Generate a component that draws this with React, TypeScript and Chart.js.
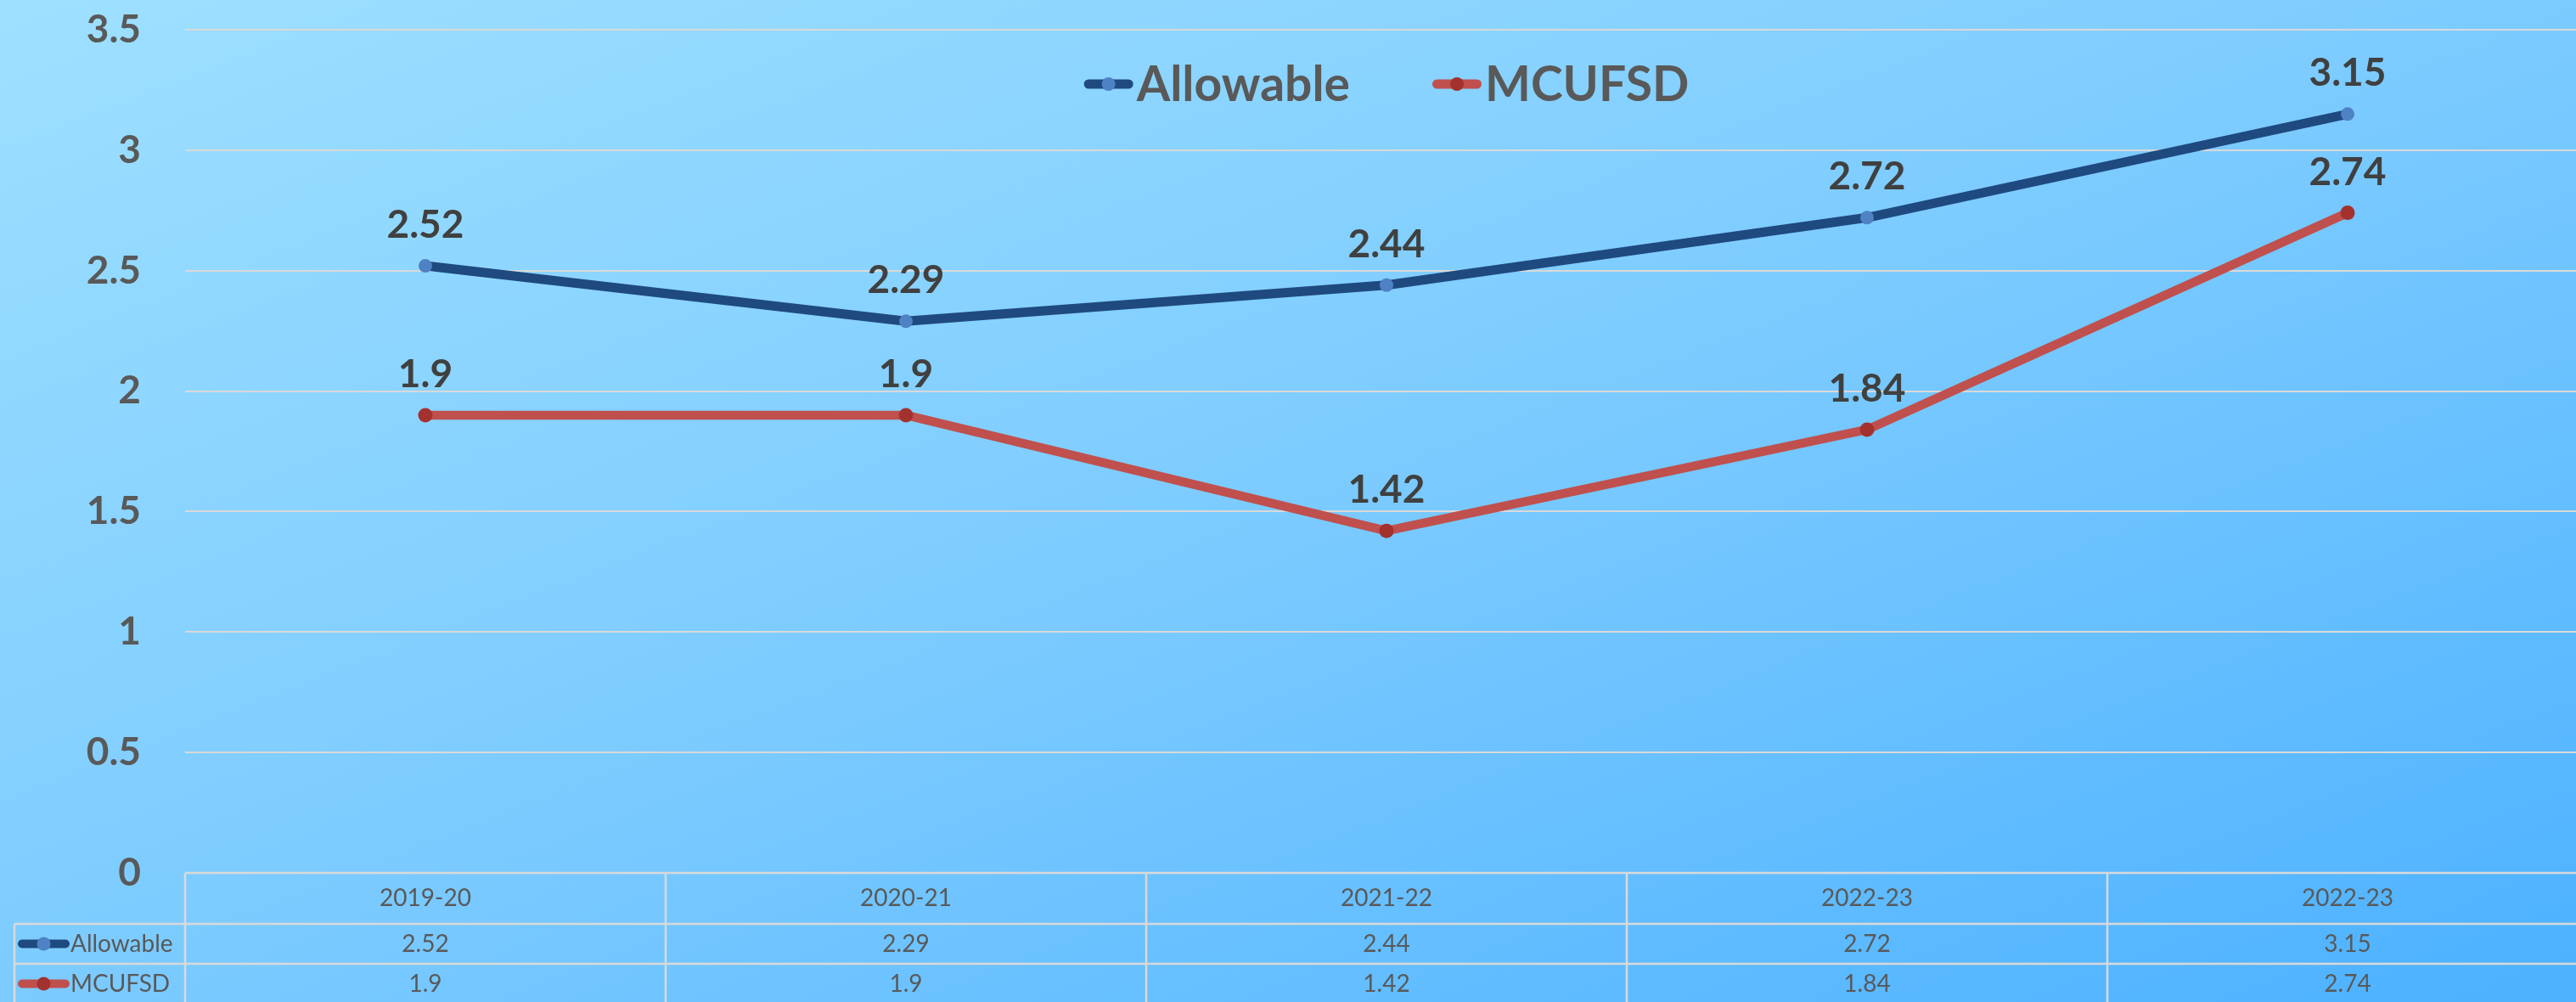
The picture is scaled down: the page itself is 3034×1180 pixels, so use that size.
import React, { useEffect, useRef } from "react";
import { Chart, registerables } from "chart.js";

Chart.register(...registerables);

const categories = ["2019-20", "2020-21", "2021-22", "2022-23", "2022-23"];
const allowableValues = [2.52, 2.29, 2.44, 2.72, 3.15];
const mcufsdValues = [1.9, 1.9, 1.42, 1.84, 2.74];
const seriesNames = ["Allowable", "MCUFSD"];
const yMin = 0;
const yMax = 3.5;
const yStep = 0.5;

const BLUE_LINE = "#1f4a7f";
const BLUE_MARK = "#4f82c4";
const RED_LINE = "#c0504d";
const RED_MARK = "#a3322f";
const GRID = "#d9d9d9";
const TEXT = "#595959";
const LABEL = "#404040";
const FONT = "Lato, 'Open Sans', sans-serif";

function drawKey(ctx: CanvasRenderingContext2D, x1: number, x2: number, y: number, lineColor: string, markColor: string, r: number, lw: number) {
  ctx.save();
  ctx.strokeStyle = lineColor;
  ctx.lineWidth = lw;
  ctx.lineCap = "round";
  ctx.beginPath();
  ctx.moveTo(x1 + lw / 2, y);
  ctx.lineTo(x2 - lw / 2, y);
  ctx.stroke();
  ctx.fillStyle = markColor;
  ctx.beginPath();
  ctx.arc((x1 + x2) / 2, y, r, 0, Math.PI * 2);
  ctx.fill();
  ctx.restore();
}

const overlayPlugin = {
  id: "overlay",
  afterDatasetsDraw(chart: any) {
    const ctx: CanvasRenderingContext2D = chart.ctx;
    ctx.save();
    ctx.font = `bold 46px ${FONT}`;
    ctx.fillStyle = LABEL;
    ctx.textAlign = "center";
    ctx.textBaseline = "alphabetic";
    chart.data.datasets.forEach((ds: any, di: number) => {
      const meta = chart.getDatasetMeta(di);
      meta.data.forEach((pt: any, i: number) => {
        ctx.fillText(String(ds.data[i]), pt.x, pt.y - 33);
      });
    });
    ctx.restore();
  },
  afterDraw(chart: any) {
    const ctx: CanvasRenderingContext2D = chart.ctx;
    const area = chart.chartArea;
    const xs = chart.scales.x;
    const colors = [
      [BLUE_LINE, BLUE_MARK],
      [RED_LINE, RED_MARK],
    ];

    // legend (top, centered over plot area)
    ctx.save();
    ctx.font = `bold 57px ${FONT}`;
    const keyW = 58;
    const keyGap = 4;
    const itemGap = 97;
    const widths = seriesNames.map((n) => ctx.measureText(n).width);
    const total = widths.reduce((a, w) => a + keyW + keyGap + w, 0) + itemGap * (seriesNames.length - 1);
    let lx = (area.left + area.right) / 2 - total / 2;
    const ly = 99;
    seriesNames.forEach((n, i) => {
      drawKey(ctx, lx, lx + keyW, ly, colors[i][0], colors[i][1], 8, 11);
      ctx.fillStyle = TEXT;
      ctx.textAlign = "left";
      ctx.textBaseline = "alphabetic";
      ctx.fillText(n, lx + keyW + keyGap, 119);
      lx += keyW + keyGap + widths[i] + itemGap;
    });
    ctx.restore();

    // data table
    const top = area.bottom;
    const headH = 60;
    const rowH = 47;
    const step = xs.getPixelForValue(1) - xs.getPixelForValue(0);
    const tableLeft = 17;
    const right = area.right;
    const bottom = chart.height + 5;
    ctx.save();
    ctx.strokeStyle = GRID;
    ctx.lineWidth = 2.5;
    ctx.beginPath();
    ctx.moveTo(area.left, top);
    ctx.lineTo(right, top);
    for (let r = 0; r < seriesNames.length; r++) {
      const y = top + headH + rowH * r;
      ctx.moveTo(tableLeft, y);
      ctx.lineTo(right, y);
    }
    ctx.moveTo(tableLeft, top + headH);
    ctx.lineTo(tableLeft, bottom);
    for (let i = 0; i <= categories.length; i++) {
      const x = xs.getPixelForValue(0) - step / 2 + step * i;
      ctx.moveTo(x, top);
      ctx.lineTo(x, bottom);
    }
    ctx.stroke();

    ctx.font = `28px ${FONT}`;
    ctx.fillStyle = TEXT;
    ctx.textAlign = "center";
    ctx.textBaseline = "middle";
    categories.forEach((c, i) => {
      ctx.fillText(c, xs.getPixelForValue(i), top + headH / 2);
    });
    const seriesData = [allowableValues, mcufsdValues];
    seriesData.forEach((vals, r) => {
      const cy = top + headH + rowH * r + rowH / 2;
      vals.forEach((v, i) => {
        ctx.fillText(String(v), xs.getPixelForValue(i), cy);
      });
    });
    seriesNames.forEach((n, r) => {
      const cy = top + headH + rowH * r + rowH / 2;
      drawKey(ctx, 21, 82, cy, colors[r][0], colors[r][1], 8, 10);
      ctx.fillStyle = TEXT;
      ctx.textAlign = "left";
      ctx.fillText(n, 83, cy);
    });
    ctx.restore();
  },
};

export default function App() {
  const ref = useRef<HTMLCanvasElement | null>(null);
  useEffect(() => {
    if (!ref.current) return;
    const chart = new Chart(ref.current, {
      type: "line",
      data: {
        labels: categories,
        datasets: [
          {
            label: seriesNames[0],
            data: allowableValues,
            borderColor: BLUE_LINE,
            backgroundColor: BLUE_MARK,
            borderWidth: 11,
            pointRadius: 8,
            pointBorderWidth: 0,
            pointBackgroundColor: BLUE_MARK,
            borderCapStyle: "round",
            borderJoinStyle: "round",
            tension: 0,
          },
          {
            label: seriesNames[1],
            data: mcufsdValues,
            borderColor: RED_LINE,
            backgroundColor: RED_MARK,
            borderWidth: 10.5,
            pointRadius: 8.5,
            pointBorderWidth: 0,
            pointBackgroundColor: RED_MARK,
            borderCapStyle: "round",
            borderJoinStyle: "round",
            tension: 0,
          },
        ],
      },
      options: {
        animation: false,
        responsive: false,
        devicePixelRatio: 1,
        layout: { padding: { left: 0, right: 12, top: 35, bottom: 152 } },
        plugins: {
          legend: { display: false },
          tooltip: { enabled: false },
        },
        scales: {
          x: {
            type: "category",
            offset: true,
            display: false,
          },
          y: {
            min: yMin,
            max: yMax,
            afterFit: (scale: any) => {
              scale.width = 218;
              scale.paddingTop = 20;
              scale.paddingBottom = 20;
            },
            ticks: {
              stepSize: yStep,
              padding: 52,
              color: TEXT,
              font: { family: FONT, size: 46, weight: "bold" },
              callback: (v: any) => String(v),
            },
            grid: { color: GRID, lineWidth: 2, drawTicks: false },
            border: { display: false },
          },
        },
      },
      plugins: [overlayPlugin],
    } as any);
    return () => chart.destroy();
  }, []);

  return (
    <div
      style={{
        position: "fixed",
        left: 0,
        top: 0,
        width: 3034,
        height: 1180,
        overflow: "hidden",
        background: "linear-gradient(to bottom right, #9ee0ff, #7ccbff 50%, #4cb1ff)",
      }}
    >
      <canvas ref={ref} width={3060} height={1180} style={{ width: 3060, height: 1180, display: "block" }} />
    </div>
  );
}
